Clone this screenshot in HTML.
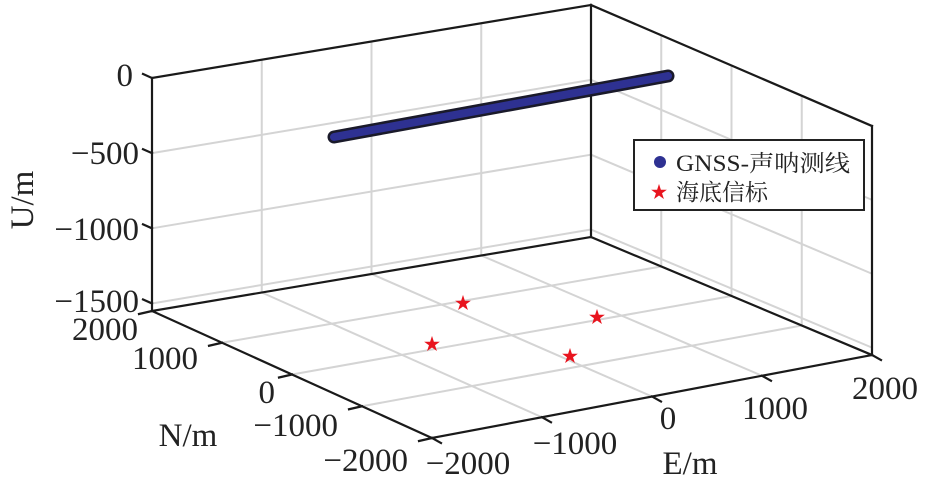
<!DOCTYPE html>
<html><head><meta charset="utf-8"><style>
body{margin:0;background:#fff}
svg{display:block}
text{font-family:"Liberation Serif","Noto Serif CJK SC",serif;fill:#222}
</style></head><body>
<svg id="s" width="928" height="486" viewBox="0 0 928 486" xmlns="http://www.w3.org/2000/svg">
<g id="grid" stroke="#d4d4d4" stroke-width="2" fill="none"></g>
<g id="box" stroke="#1a1a1a" stroke-width="2.2" fill="none" stroke-linecap="square"></g>
<line x1="334" y1="137" x2="668" y2="76" stroke="#1a1a2a" stroke-width="13" stroke-linecap="round"/>
<line x1="334" y1="137" x2="668" y2="76" stroke="#2e3192" stroke-width="8" stroke-linecap="round"/>
<g font-size="17" text-anchor="middle">
<text x="463" y="309" style="fill:#e8141e">★</text>
<text x="432" y="350" style="fill:#e8141e">★</text>
<text x="597" y="323" style="fill:#e8141e">★</text>
<text x="570" y="362" style="fill:#e8141e">★</text>
</g>
<rect x="634" y="140" width="230" height="70" fill="#fff" stroke="#222" stroke-width="2"/>
<circle cx="660" cy="162" r="6" fill="#2e3192"/>
<text x="659" y="198" font-size="17" text-anchor="middle" style="fill:#e8141e">★</text>
<text x="676" y="171" font-size="23" textLength="174" lengthAdjust="spacingAndGlyphs">GNSS-声呐测线</text>
<text x="676" y="200" font-size="23">海底信标</text>
<g font-size="33" text-anchor="end">
<text x="133" y="86">0</text>
<text x="139" y="164">−500</text>
<text x="139" y="240">−1000</text>
<text x="139" y="312">−1500</text>
<text x="138" y="340">2000</text>
<text x="198" y="369">1000</text>
<text x="275" y="403">0</text>
<text x="338" y="436">−1000</text>
<text x="408" y="471">−2000</text>
</g>
<g font-size="33" text-anchor="middle">
<text x="468" y="474">−2000</text>
<text x="575" y="454">−1000</text>
<text x="668" y="429">0</text>
<text x="775" y="419">1000</text>
<text x="885" y="399">2000</text>
<text x="690" y="474">E/m</text>
<text x="188" y="446">N/m</text>
<text transform="translate(33,200) rotate(-90)">U/m</text>
</g>
</svg>
<script>
var F=[432,438],L=[152,311],R=[872,355],B=[591,237];
var LT=[152,78],BT=[591,5],RT=[872,126];
function lerp(a,b,t){return [a[0]+(b[0]-a[0])*t,a[1]+(b[1]-a[1])*t];}
var g=document.getElementById('grid'),bx=document.getElementById('box');
function ln(p,q,par){var l=document.createElementNS('http://www.w3.org/2000/svg','line');l.setAttribute('x1',p[0]);l.setAttribute('y1',p[1]);l.setAttribute('x2',q[0]);l.setAttribute('y2',q[1]);par.appendChild(l);}
var fr=[0.25,0.5,0.75];
fr.forEach(function(t){
 ln(lerp(F,R,t),lerp(L,B,t),g); ln(lerp(F,L,t),lerp(R,B,t),g);
 ln(lerp(L,B,t),lerp(LT,BT,t),g); ln(lerp(B,R,t),lerp(BT,RT,t),g);
});
var zmin=-1550;
[-1500,-1000,-500].forEach(function(z){
 var t=(z-zmin)/(0-zmin);
 var l=lerp(L,LT,t),b=lerp(B,BT,t),r=lerp(R,RT,t);
 ln(l,b,g);ln(b,r,g);
});
ln(L,F,bx);ln(F,R,bx);ln(L,B,bx);ln(B,R,bx);
ln(L,LT,bx);ln(B,BT,bx);ln(R,RT,bx);ln(LT,BT,bx);ln(BT,RT,bx);
[0,0.25,0.5,0.75,1].forEach(function(t){
 var p=lerp(F,L,t);ln(p,[p[0]-13,p[1]+3],bx);
 var q=lerp(F,R,t);ln(q,[q[0]+9,q[1]+5],bx);
});
[-1500,-1000,-500,0].forEach(function(z){
 var t=(z-zmin)/(0-zmin);var p=lerp(L,LT,t);ln(p,[p[0]-9,p[1]-4],bx);
});
</script>
</body></html>
